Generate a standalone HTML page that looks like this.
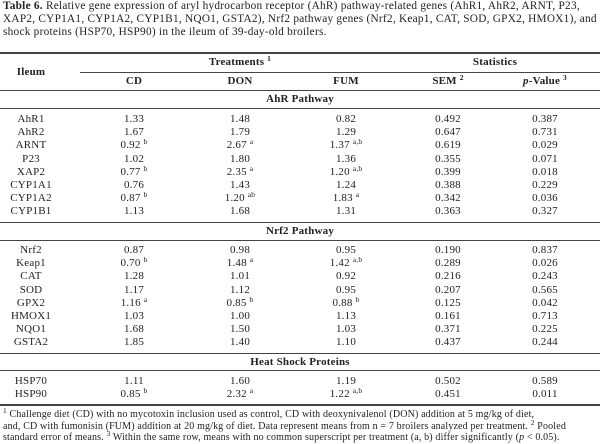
<!DOCTYPE html>
<html><head><meta charset="utf-8">
<style>
body{margin:0;width:600px;height:442px;background:#fff;overflow:hidden;font-family:"Liberation Serif",serif;color:#222;position:relative}
.cap{position:absolute;left:3px;top:0;width:600px;font-size:11.3px;line-height:13.2px;letter-spacing:0.25px;white-space:nowrap}
.t{position:absolute;font-size:11px;white-space:nowrap;transform:translate(-50%,-50%);letter-spacing:0.2px}
.b{font-weight:bold}
.r{position:absolute;height:1px;background:#444}
sup{font-size:7.5px;vertical-align:4px;line-height:0}
.fn{position:absolute;left:3px;top:409px;width:600px;font-size:10px;line-height:11.6px;letter-spacing:0.15px;white-space:nowrap}
</style></head><body>
<div class="cap"><b>Table 6.</b> Relative gene expression of aryl hydrocarbon receptor (AhR) pathway-related genes (AhR1, AhR2, ARNT, P23,<br>XAP2, CYP1A1, CYP1A2, CYP1B1, NQO1, GSTA2), Nrf2 pathway genes (Nrf2, Keap1, CAT, SOD, GPX2, HMOX1), and heat<br>shock proteins (HSP70, HSP90) in the ileum of 39-day-old broilers.</div>
<div class="r" style="left:0;width:600px;top:52px;height:1.5px"></div>
<div class="r" style="left:80px;width:520px;top:72px"></div>
<div class="r" style="left:0;width:600px;top:90px"></div>
<div class="t b" style="left:31px;top:72px">Ileum</div>
<div class="t b" style="left:240px;top:62px">Treatments <sup>1</sup></div>
<div class="t b" style="left:495px;top:62px">Statistics</div>
<div class="t b" style="left:134px;top:81px">CD</div>
<div class="t b" style="left:240px;top:81px">DON</div>
<div class="t b" style="left:346px;top:81px">FUM</div>
<div class="t b" style="left:448px;top:81px">SEM <sup>2</sup></div>
<div class="t b" style="left:545px;top:81px"><i>p</i>-Value <sup>3</sup></div>
<div id="rows"></div>
<div class="r" style="left:0;width:600px;top:404px;height:1.5px"></div>
<div class="fn"><sup>1</sup> Challenge diet (CD) with no mycotoxin inclusion used as control, CD with deoxynivalenol (DON) addition at 5 mg/kg of diet,<br>and, CD with fumonisin (FUM) addition at 20 mg/kg of diet. Data represent means from n = 7 broilers analyzed per treatment. <sup>2</sup> Pooled<br>standard error of means. <sup>3</sup> Within the same row, means with no common superscript per treatment (a, b) differ significantly (<i>p</i> &lt; 0.05).</div>
<script>
const sections=[
{title:"AhR Pathway",y:99,rule1:108,rows:[
["AhR1","1.33","1.48","0.82","0.492","0.387"],
["AhR2","1.67","1.79","1.29","0.647","0.731"],
["ARNT","0.92|b","2.67|a","1.37|a,b","0.619","0.029"],
["P23","1.02","1.80","1.36","0.355","0.071"],
["XAP2","0.77|b","2.35|a","1.20|a,b","0.399","0.018"],
["CYP1A1","0.76","1.43","1.24","0.388","0.229"],
["CYP1A2","0.87|b","1.20|ab","1.83|a","0.342","0.036"],
["CYP1B1","1.13","1.68","1.31","0.363","0.327"]],first:119,pitch:13.2,ruleTop:222},
{title:"Nrf2 Pathway",y:231,rule1:240,rows:[
["Nrf2","0.87","0.98","0.95","0.190","0.837"],
["Keap1","0.70|b","1.48|a","1.42|a,b","0.289","0.026"],
["CAT","1.28","1.01","0.92","0.216","0.243"],
["SOD","1.17","1.12","0.95","0.207","0.565"],
["GPX2","1.16|a","0.85|b","0.88|b","0.125","0.042"],
["HMOX1","1.03","1.00","1.13","0.161","0.713"],
["NQO1","1.68","1.50","1.03","0.371","0.225"],
["GSTA2","1.85","1.40","1.10","0.437","0.244"]],first:250,pitch:13.2,ruleTop:353},
{title:"Heat Shock Proteins",y:362,rule1:370,rows:[
["HSP70","1.11","1.60","1.19","0.502","0.589"],
["HSP90","0.85|b","2.32|a","1.22|a,b","0.451","0.011"]],first:381,pitch:13.2,ruleTop:null}];
const colX=[31,134,240,346,448,545];
const host=document.getElementById('rows');
function add(cls,x,y,html){const d=document.createElement('div');d.className=cls;d.style.left=x+'px';d.style.top=y+'px';d.innerHTML=html;host.appendChild(d);return d;}
function rule(y){const d=document.createElement('div');d.className='r';d.style.left='0';d.style.width='600px';d.style.top=y+'px';


host.appendChild(d);}
sections.forEach(s=>{
 const h=add('t b',300,s.y,s.title);
 
 
 rule(s.rule1);
 s.rows.forEach((r,i)=>{
  const y=s.first+i*s.pitch;
  r.forEach((c,j)=>{
   const p=c.split('|');
   const el=add('t',colX[j],y,p[0]+(p[1]?' <sup>'+p[1]+'</sup>':''));
   
   
  });
 });
 if(s.ruleTop)rule(s.ruleTop);
});
</script>
</body></html>
